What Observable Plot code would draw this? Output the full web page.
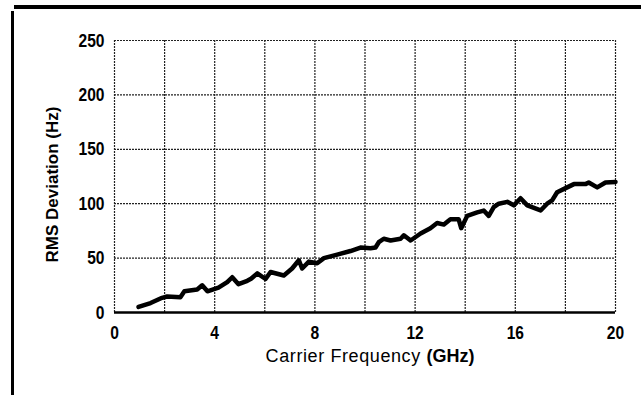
<!DOCTYPE html>
<html>
<head>
<meta charset="utf-8">
<script src="https://cdn.jsdelivr.net/npm/d3@7"></script>
<script src="https://cdn.jsdelivr.net/npm/@observablehq/plot@0.6"></script>
<style>
  html, body { margin: 0; padding: 0; background: #fff; }
  #wrap { position: relative; width: 641px; height: 401px; overflow: hidden; }
  #topbar { position: absolute; left: 14px; top: 5px; width: 627px; height: 4px; background: #000; }
  #leftbar { position: absolute; left: 11px; top: 11px; width: 3px; height: 384px; background: #000; }
  #chart { position: absolute; left: 0; top: 0; }
</style>
</head>
<body>
<div id="wrap">
  <div id="chart"></div>
  <div id="topbar"></div>
  <div id="leftbar"></div>
</div>
<script>
// Carrier frequency (GHz)
const freq = [0.96,1.44,1.9,2.1,2.63,2.79,3.3,3.5,3.71,4.15,4.5,4.7,4.95,5.3,5.45,5.7,6.03,6.23,6.76,7.09,7.36,7.49,7.76,8.09,8.36,8.89,9.42,9.82,10.22,10.42,10.55,10.75,11.02,11.42,11.55,11.82,12.22,12.61,12.88,13.15,13.41,13.74,13.84,14.08,14.48,14.74,14.94,15.14,15.34,15.68,15.94,16.21,16.48,17.01,17.27,17.47,17.67,18.07,18.34,18.8,18.93,19.27,19.6,20];
// RMS deviation (Hz)
const deviation = [5.1,8.7,13.5,14.7,14.1,19.5,21.2,25,19.5,22.8,27.9,32.4,26,29.1,31,36,30.8,37.2,34,40.4,48,40.4,46.8,45.2,50,53.2,56.5,59.7,59,59.7,64.6,67.8,66.2,67.8,71,66.2,72.6,77.5,82.3,80.8,85.6,85.6,77.5,88.8,92,93.7,88.8,96.8,100,101.7,98.5,105,98.5,93.8,100,103,110.5,115,118,118,119.5,115,119.5,120];

const xTicks = [0, 4, 8, 12, 16, 20];
const yTicks = [0, 50, 100, 150, 200, 250];
const xGrid = [2, 4, 6, 8, 10, 12, 14, 16, 18, 20];
const yGrid = [50, 100, 150, 200, 250];
const xLabel = "Carrier Frequency (GHz)";
const yLabel = "RMS Deviation (Hz)";

const data = freq.map((f, i) => ({freq: f, dev: deviation[i]}));

const chart = Plot.plot({
  width: 641,
  height: 401,
  marginLeft: 114,
  marginRight: 26,
  marginTop: 40,
  marginBottom: 89,
  style: {fontFamily: "'Liberation Sans', Arial, sans-serif", fontWeight: "bold", fontSize: "19px", color: "#000", background: "transparent"},
  x: {domain: [0, 20]},
  y: {domain: [0, 250]},
  marks: [
    Plot.ruleX(xGrid, {stroke: "#222", strokeWidth: 1.2, strokeDasharray: "2,1"}),
    Plot.ruleY(yGrid, {stroke: "#222", strokeWidth: 1.2, strokeDasharray: "2,1"}),
    Plot.ruleX([0], {stroke: "#222", strokeWidth: 1.2, strokeDasharray: "2,1"}),
    Plot.ruleY([0], {stroke: "#000", strokeWidth: 2.5}),
    Plot.line(data, {x: "freq", y: "dev", stroke: "#000", strokeWidth: 4.5, strokeLinejoin: "round", strokeLinecap: "round"}),
    Plot.axisX({ticks: xTicks, tickSize: 0, tickPadding: 13, label: null, fontSize: 19, className: "xt"}),
    Plot.axisY({ticks: yTicks, tickSize: 0, tickPadding: 10, label: null, fontSize: 19, className: "yt"}),
    Plot.text([xLabel], {frameAnchor: "bottom", dx: 5, dy: 49, fontSize: 18, fontWeight: "normal", className: "xlab"}),
    Plot.text([yLabel], {frameAnchor: "left", textAnchor: "middle", rotate: -90, dx: -62, dy: 8, fontSize: 17, fontWeight: "bold", className: "ylab"})
  ]
});
document.getElementById("chart").appendChild(chart);

// condensed look for the tick labels
chart.querySelectorAll(".xt text, .yt text").forEach(t => {
  const w = t.getComputedTextLength();
  t.setAttribute("textLength", (w * 0.82).toFixed(1));
  t.setAttribute("lengthAdjust", "spacingAndGlyphs");
});

// emphasise the unit in the x axis title, as in the reference
(function () {
  const t = chart.querySelector(".xlab text");
  if (!t) return;
  const full = t.textContent;
  const k = full.lastIndexOf("(");
  t.textContent = "";
  const a = document.createElementNS("http://www.w3.org/2000/svg", "tspan");
  a.textContent = full.slice(0, k);
  a.setAttribute("letter-spacing", "0.6");
  const b = document.createElementNS("http://www.w3.org/2000/svg", "tspan");
  b.textContent = full.slice(k);
  b.setAttribute("font-weight", "bold");
  b.setAttribute("font-size", "18");
  t.appendChild(a);
  t.appendChild(b);
})();
</script>
</body>
</html>
